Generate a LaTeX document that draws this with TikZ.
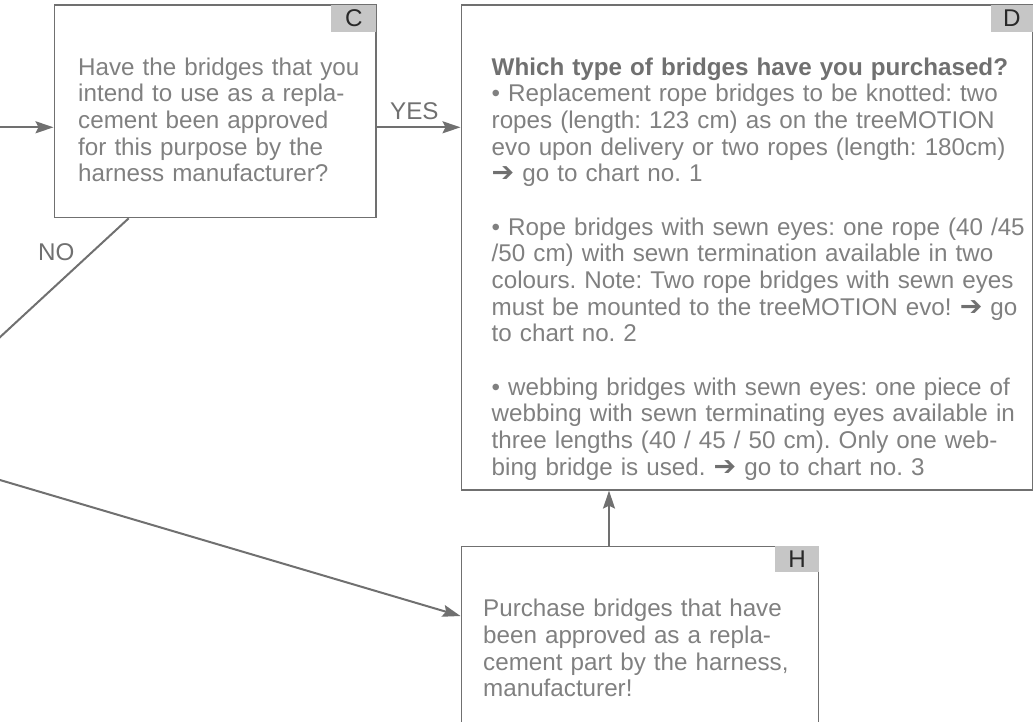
\documentclass[tikz,border=0pt]{standalone}
\usepackage{fontspec}
\setmainfont{Liberation Sans}
\newfontfamily\symfont{DejaVu Sans}
\usetikzlibrary{arrows.meta,calc}
\definecolor{txtgray}{RGB}{128,128,128}
\definecolor{headgray}{RGB}{112,112,112}
\definecolor{linegray}{RGB}{112,112,112}
\definecolor{tagfill}{RGB}{198,198,198}
\definecolor{tagtext}{RGB}{40,40,40}
\newcommand{\arr}{\textcolor{headgray}{\symfont\fontsize{27}{26.67}\selectfont ➔}}
\begin{document}
\frenchspacing
\begin{tikzpicture}[x=1pt,y=-1pt,
  every node/.style={font=\fontsize{24.2}{26.67}\selectfont},
  box/.style={draw=linegray,line width=1.3pt,inner sep=0pt,anchor=north west},
  tagbox/.style={fill=tagfill,text=tagtext,inner sep=0pt,minimum width=45,minimum height=27,anchor=north east},
  body/.style={text=txtgray,align=left,text width=600,inner sep=0pt,anchor=base west},
  lbl/.style={text=headgray,inner sep=0pt,anchor=base west},
  conn/.style={draw=linegray,line width=2pt},
  arrow/.style={conn,-{Stealth[length=18pt,width=12pt,inset=3pt]}}]
\path[use as bounding box] (0,0) rectangle (1036,721);
\clip (0,0) rectangle (1036,721);
% boxes
\node[box,minimum width=321.8,minimum height=212.7] (C) at (53.5,4.3) {};
\node[tagbox] (Ctag) at (C.north east) {C};
\node[box,minimum width=571.5,minimum height=485] (D) at (460.5,4.3) {};
\node[tagbox,minimum width=42.5] (Dtag) at (D.north east) {D};
\node[box,minimum width=357.5,minimum height=220] (H) at (460.5,546) {};
\node[tagbox,minimum width=44,minimum height=26] (Htag) at (H.north east) {H};
% texts
\node[body] (Ctext) at (78,75) {Have the bridges that you\\intend to use as a repla-\\cement been approved\\for this purpose by the\\harness manufacturer?};
\node[body] (Dtext) at (491.5,75) {\textcolor{headgray}{\bfseries Which type of bridges have you purchased?}\\
• Replacement rope bridges to be knotted: two\\
ropes (length: 123 cm) as on the treeMOTION\\
evo upon delivery or two ropes (length: 180cm)\\
\arr\ go to chart no. 1\\[26.67pt]
• Rope bridges with sewn eyes: one rope (40 /45\\
/50 cm) with sewn termination available in two\\
colours. Note: Two rope bridges with sewn eyes\\
must be mounted to the treeMOTION evo! \arr\ go\\
to chart no. 2\\[26.67pt]
• webbing bridges with sewn eyes: one piece of\\
webbing with sewn terminating eyes available in\\
three lengths (40 / 45 / 50 cm). Only one web-\\
bing bridge is used. \arr\ go to chart no. 3};
\node[body] (Htext) at (483,616.7) {Purchase bridges that have\\been approved as a repla-\\cement part by the harness,\\manufacturer!};
% connectors
\coordinate (row) at (-20,127.3);
\coordinate (noend) at (-20,355.6);
\coordinate (hstart) at (-20,474.1);
\draw[arrow] (row) -- (row -| C.west);
\draw[arrow] (row -| C.east) -- (row -| D.west);
\node[lbl] (yes) at (390,119) {YES};
\draw[conn] ($(C.south west)+(75.2,0)$) -- (noend);
\node[lbl] (no) at (38,260) {NO};
\draw[arrow] (hstart) -- ($(H.north west)+(0,70)$);
\draw[arrow] ($(H.north west)+(148.5,0)$) -- ($(D.south west)+(148.5,0)$);
\end{tikzpicture}
\end{document}
